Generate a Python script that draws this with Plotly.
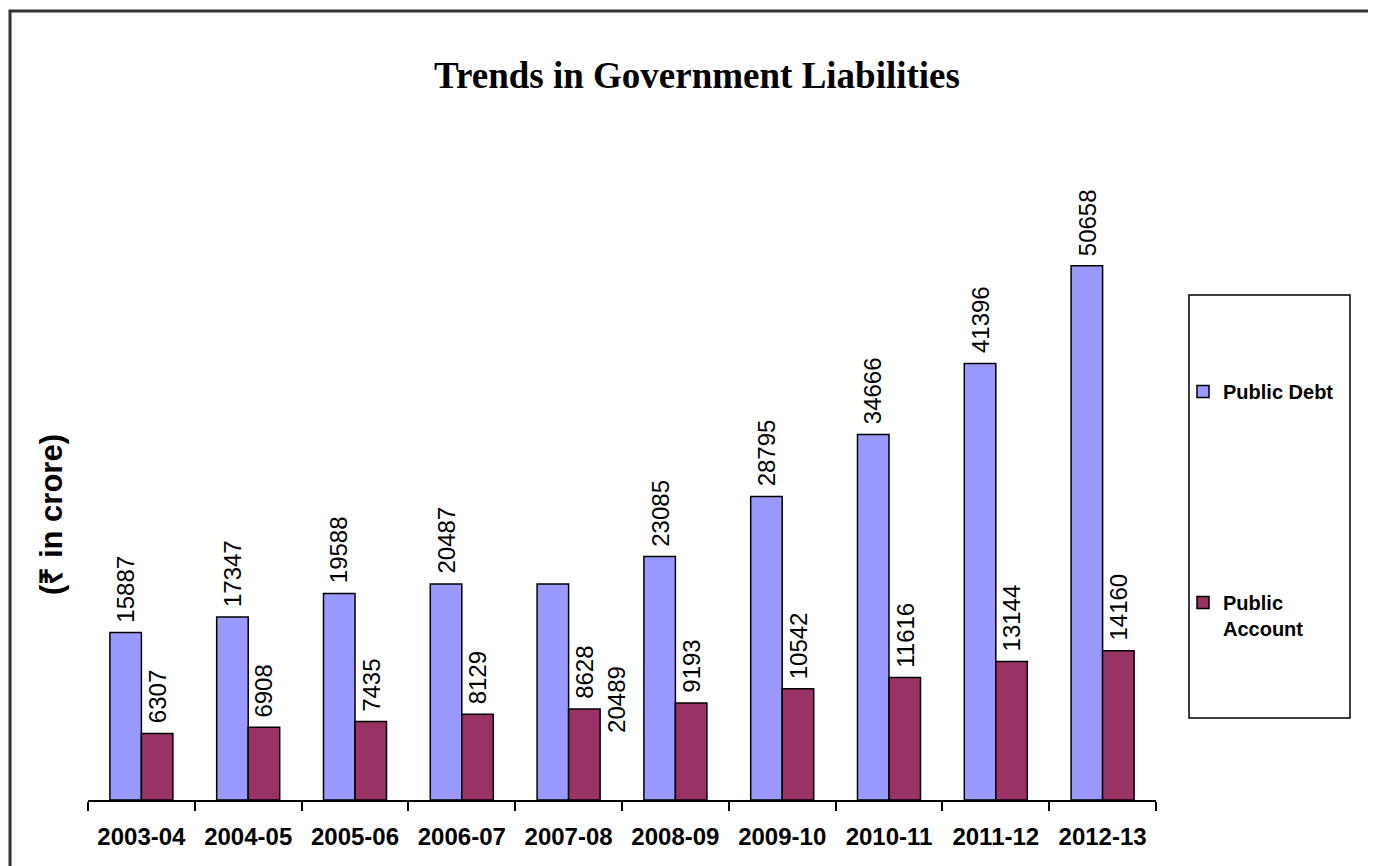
import plotly.graph_objects as go

years = ["2003-04", "2004-05", "2005-06", "2006-07", "2007-08",
         "2008-09", "2009-10", "2010-11", "2011-12", "2012-13"]
public_debt = [15887, 17347, 19588, 20487, 20489, 23085, 28795, 34666, 41396, 50658]
public_account = [6307, 6908, 7435, 8129, 8628, 9193, 10542, 11616, 13144, 14160]

W, H = 1376, 866
O = 8  # page body margin offset
L, T = 88 - O, 180 - O
R, B = W - (1156 - O), H - (800 - O)
PW, PH = W - L - R, H - T - B
BARGAP = 0.41

def px(x):
    return (x - O - L) / PW

def py(y):
    return (H - B - (y - O)) / PH

displaced = 4  # the 2007-08 debt label sits beside the account label in the original

label_font = dict(family="Liberation Sans, Arial, sans-serif", size=24, color="black")
sans = "Liberation Sans, Arial, sans-serif"

fig = go.Figure()
fig.add_trace(go.Bar(
    x=years, y=public_debt, name="<b>Public Debt</b>", legendgroup="a",
    marker=dict(color="#9999FF", line=dict(color="black", width=1.5)),
))
fig.add_trace(go.Bar(
    x=years, y=public_account, name="<b>Public<br>Account</b>", legendgroup="b",
    marker=dict(color="#993366", line=dict(color="black", width=1.5)),
))

half = (1 - BARGAP) / 4  # offset of each bar centre from the category centre
for i, yr in enumerate(years):
    if i != displaced:
        fig.add_annotation(x=i - half, y=public_debt[i], xref="x", yref="y",
                           text=str(public_debt[i]), showarrow=False, textangle=-90,
                           font=label_font, xanchor="center", yanchor="bottom", yshift=8)
    else:
        fig.add_annotation(x=i + 3 * half, y=public_account[i], xref="x", yref="y",
                           text=str(public_debt[i]), showarrow=False, textangle=-90,
                           font=label_font, xanchor="center", yanchor="middle", yshift=10)
    fig.add_annotation(x=i + half, y=public_account[i], xref="x", yref="y",
                       text=str(public_account[i]), showarrow=False, textangle=-90,
                       font=label_font, xanchor="center", yanchor="bottom", yshift=8)

fig.add_annotation(
    x=px(51), y=py(515), xref="paper", yref="paper",
    text="<b>(₹ in crore)</b>", showarrow=False, textangle=-90,
    font=dict(family=sans, size=31, color="black"),
    xanchor="center", yanchor="middle",
)

fig.add_shape(type="rect", xref="paper", yref="paper",
              x0=px(10), y0=py(890), x1=px(1400), y1=py(11),
              line=dict(color="#333333", width=3), layer="below")
fig.add_shape(type="rect", xref="paper", yref="paper",
              x0=px(1189), y0=py(718), x1=px(1350), y1=py(295),
              line=dict(color="black", width=1.5))

fig.update_layout(
    width=W, height=H,
    margin=dict(l=L, r=R, t=T, b=B, autoexpand=False),
    paper_bgcolor="white", plot_bgcolor="white",
    barmode="group", bargap=BARGAP, bargroupgap=0,
    title=dict(text="<b>Trends in Government Liabilities</b>",
               xref="container", yref="container",
               x=(697 - O) / W, xanchor="center", y=1 - (75 - O) / H, yanchor="middle",
               font=dict(family="Liberation Serif, Times New Roman, serif", size=37, color="black")),
    showlegend=True,
    legend=dict(x=px(1183), y=py(372), xanchor="left", yanchor="top",
                traceorder="grouped", tracegroupgap=182, valign="top",
                bgcolor="rgba(0,0,0,0)", borderwidth=0,
                font=dict(family=sans, size=20, color="black")),
    xaxis=dict(type="category", showline=True, linecolor="black", linewidth=1.5,
               ticks="outside", tickson="boundaries", ticklen=9, tickcolor="black",
               tickwidth=1.5, showgrid=False, ticklabelstandoff=14,
               tickvals=years, ticktext=[f"<b>{y}</b>" for y in years],
               tickfont=dict(family=sans, size=24, color="black")),
    yaxis=dict(range=[0, 58800], visible=False, showgrid=False, zeroline=False),
)

fig.write_html("out.html")
